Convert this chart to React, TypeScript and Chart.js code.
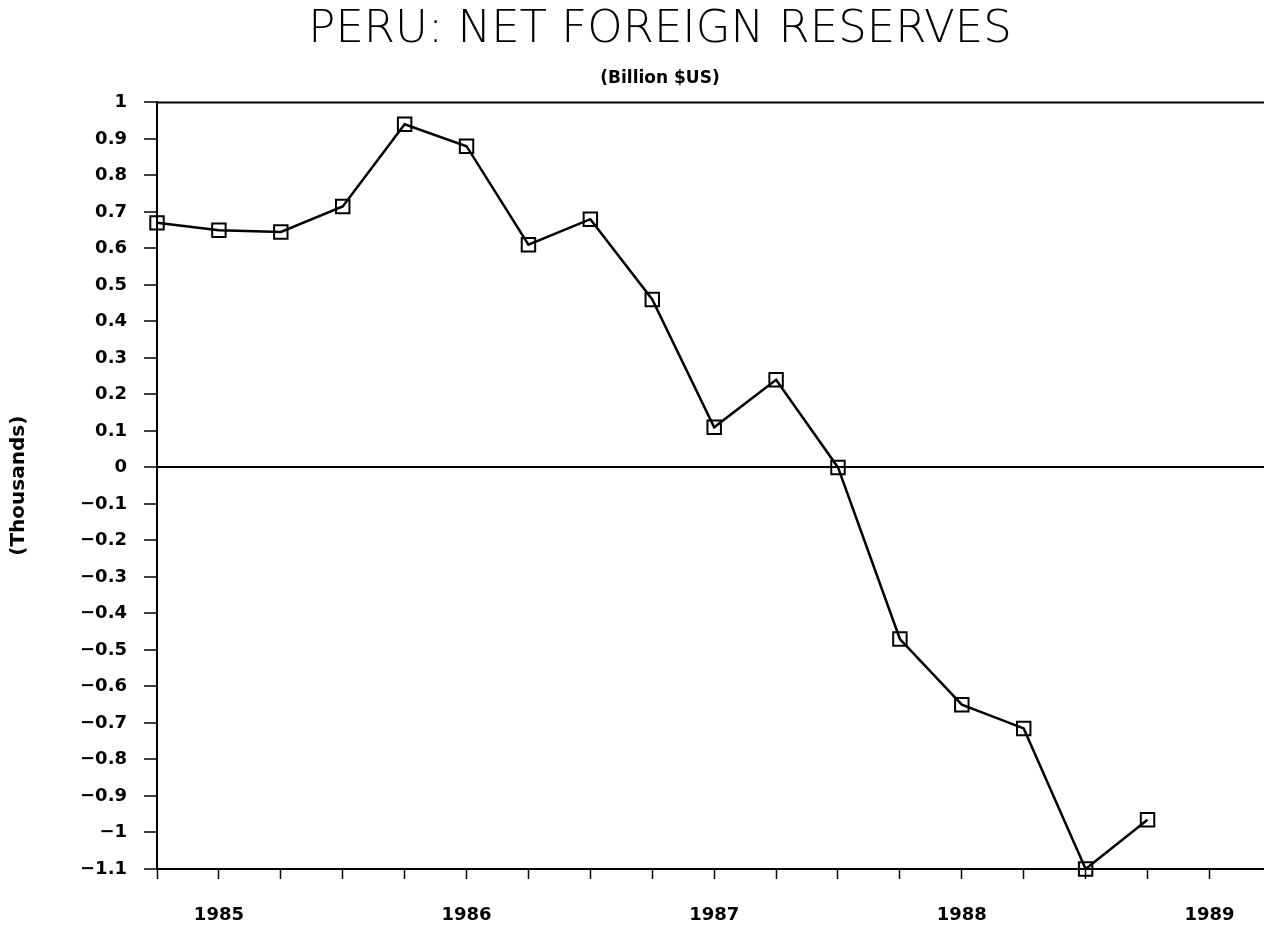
import React, { useEffect, useRef } from "react";
import { Chart, registerables } from "chart.js";

Chart.register(...registerables);

const TITLE = "PERU: NET FOREIGN RESERVES";
const SUBTITLE = "(Billion $US)";
const Y_TITLE = "(Thousands)";

// quarterly observations (year fraction)
const quarters = [
  1984.75, 1985.0, 1985.25, 1985.5, 1985.75, 1986.0, 1986.25, 1986.5, 1986.75,
  1987.0, 1987.25, 1987.5, 1987.75, 1988.0, 1988.25, 1988.5, 1988.75,
];
const reserves = [
  0.67, 0.65, 0.645, 0.715, 0.94, 0.88, 0.61, 0.68, 0.46,
  0.11, 0.24, 0.0, -0.47, -0.65, -0.715, -1.1, -0.965,
];
const years = [1985, 1986, 1987, 1988, 1989];
const yMin = -1.1;
const yMax = 1;
const xMin = 1984.75;
const xMax = 1989.4;

const topBorder = {
  id: "topBorder",
  afterDraw(chart: any) {
    const { ctx, chartArea } = chart;
    ctx.save();
    ctx.strokeStyle = "#000";
    ctx.lineWidth = 2;
    ctx.beginPath();
    ctx.moveTo(chartArea.left, chartArea.top);
    ctx.lineTo(chartArea.right, chartArea.top);
    ctx.stroke();
    ctx.restore();
  },
};

export default function App() {
  const ref = useRef<HTMLCanvasElement>(null);
  useEffect(() => {
    if (!ref.current) return;
    const chart = new Chart(ref.current, {
      type: "line",
      data: {
        datasets: [
          {
            data: quarters.map((q, i) => ({ x: q, y: reserves[i] })),
            borderColor: "#000",
            borderWidth: 2.5,
            pointStyle: "rect",
            pointRadius: 9.5,
            pointBorderWidth: 2,
            pointBorderColor: "#000",
            pointBackgroundColor: "rgba(0,0,0,0)",
            tension: 0,
            clip: false as any,
          },
        ],
      },
      plugins: [topBorder],
      options: {
        responsive: false,
        animation: false,
        layout: { padding: { top: 0, right: 0, left: 0, bottom: 0 } },
        plugins: {
          legend: { display: false },
          tooltip: { enabled: false },
          title: {
            display: true,
            text: TITLE,
            color: "#000",
            font: { family: "'DejaVu Sans', sans-serif", size: 45, weight: 200 as any },
            padding: { top: 3, bottom: 11 },
          },
          subtitle: {
            display: true,
            text: SUBTITLE,
            color: "#000",
            font: { family: "'DejaVu Sans', sans-serif", size: 17, weight: "bold" },
            padding: { top: 0, bottom: 14 },
          },
        },
        scales: {
          x: {
            type: "linear",
            min: xMin,
            max: xMax,
            afterBuildTicks: (scale: any) => {
              const t: any[] = [];
              for (let y = years[0] - 1; y <= years[years.length - 1]; y++) {
                for (let q = 0; q < 4; q++) {
                  const v = y + q / 4;
                  if (v >= xMin - 1e-9 && v <= years[years.length - 1] + 1e-9) t.push({ value: v });
                }
              }
              scale.ticks = t;
            },
            afterFit: (scale: any) => {
              scale.height = 57;
            },
            ticks: {
              autoSkip: false,
              maxRotation: 0,
              padding: 26,
              color: "#000",
              font: { family: "'DejaVu Sans', sans-serif", size: 18, weight: "bold" },
              callback: (v: any) => (years.includes(v) ? String(v) : ""),
            },
            grid: {
              drawOnChartArea: false,
              drawTicks: true,
              tickLength: 10,
              tickColor: "#000",
              tickWidth: 1.5,
            },
            border: { display: true, color: "#000", width: 2 },
          },
          y: {
            type: "linear",
            min: yMin,
            max: yMax,
            afterFit: (scale: any) => {
              scale.width = 157;
            },
            ticks: {
              stepSize: 0.1,
              autoSkip: false,
              padding: 17,
              color: "#000",
              font: { family: "'DejaVu Sans', sans-serif", size: 18, weight: "bold" },
              callback: (v: any) => {
                const r = Math.round(Number(v) * 10) / 10;
                if (Math.abs(r) < 1e-9) return "0";
                return (r < 0 ? "\u2212" : "") + String(Math.abs(r));
              },
            },
            grid: {
              drawOnChartArea: true,
              color: (c: any) => (Math.abs(c.tick.value) < 1e-9 ? "#000" : "rgba(0,0,0,0)"),
              lineWidth: (c: any) => (Math.abs(c.tick.value) < 1e-9 ? 2 : 0),
              tickLength: 13,
              tickColor: "#000",
              tickWidth: 1.5,
            },
            border: { display: true, color: "#000", width: 2 },
            title: {
              display: true,
              text: Y_TITLE,
              color: "#000",
              font: { family: "'DejaVu Sans', sans-serif", size: 20, weight: "bold" },
              padding: { top: 7, bottom: 0 },
            },
          },
        },
      },
    });
    return () => chart.destroy();
  }, []);
  return (
    <div
      style={{
        position: "absolute",
        left: 0,
        top: 0,
        width: 1264,
        height: 926,
        overflow: "hidden",
        background: "#fff",
      }}
    >
      <canvas ref={ref} width={1320} height={926} />
    </div>
  );
}
